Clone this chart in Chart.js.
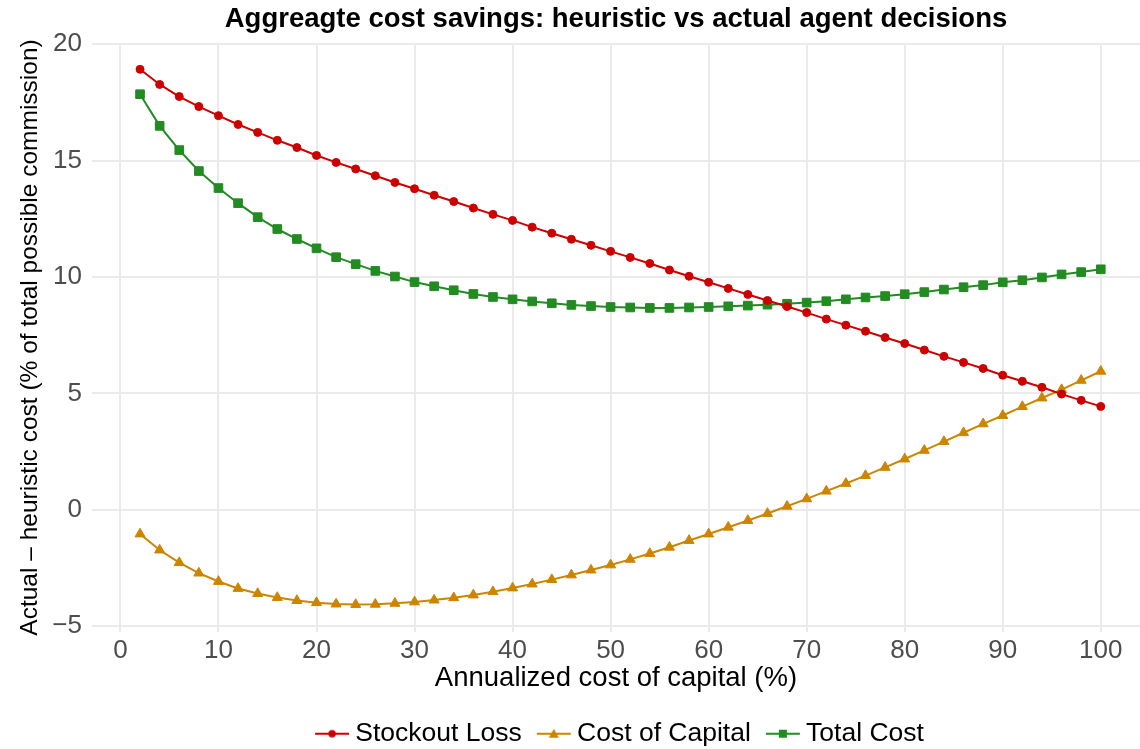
<!DOCTYPE html>
<html>
<head>
<meta charset="utf-8">
<script src="https://cdn.jsdelivr.net/npm/chart.js@4/dist/chart.umd.min.js"></script>
<style>
  html, body { margin: 0; padding: 0; background: #fff; overflow: hidden; }
</style>
</head>
<body>
<canvas id="chart" width="1140" height="749"></canvas>
<script>
const capitalCost = [2, 4, 6, 8, 10, 12, 14, 16, 18, 20, 22, 24, 26, 28, 30, 32, 34, 36, 38, 40,
  42, 44, 46, 48, 50, 52, 54, 56, 58, 60, 62, 64, 66, 68, 70, 72, 74, 76, 78, 80,
  82, 84, 86, 88, 90, 92, 94, 96, 98, 100];
const stockoutLoss = [18.92, 18.27, 17.75, 17.32, 16.93, 16.55, 16.21, 15.87, 15.56, 15.22,
  14.92, 14.64, 14.35, 14.06, 13.79, 13.51, 13.24, 12.96, 12.69, 12.43,
  12.14, 11.88, 11.62, 11.36, 11.10, 10.84, 10.58, 10.30, 10.03, 9.77,
  9.51, 9.25, 8.99, 8.73, 8.47, 8.19, 7.93, 7.67, 7.40, 7.14,
  6.86, 6.59, 6.33, 6.07, 5.78, 5.52, 5.26, 4.97, 4.70, 4.44];
const costOfCapital = [-1.04, -1.73, -2.27, -2.72, -3.08, -3.38, -3.60, -3.77, -3.90, -3.99,
  -4.05, -4.07, -4.06, -4.02, -3.96, -3.88, -3.78, -3.66, -3.52, -3.36,
  -3.19, -3.00, -2.80, -2.59, -2.37, -2.13, -1.88, -1.61, -1.32, -1.04,
  -0.75, -0.46, -0.16, 0.15, 0.47, 0.80, 1.13, 1.47, 1.82, 2.18,
  2.55, 2.93, 3.31, 3.69, 4.05, 4.43, 4.80, 5.16, 5.56, 5.95];
const totalCost = [17.85, 16.49, 15.45, 14.55, 13.82, 13.17, 12.57, 12.06, 11.63, 11.23,
  10.85, 10.55, 10.26, 10.02, 9.78, 9.60, 9.43, 9.27, 9.14, 9.04,
  8.95, 8.87, 8.80, 8.75, 8.71, 8.69, 8.67, 8.67, 8.69, 8.71,
  8.74, 8.77, 8.81, 8.85, 8.90, 8.96, 9.04, 9.12, 9.18, 9.26,
  9.35, 9.46, 9.56, 9.65, 9.77, 9.86, 9.98, 10.11, 10.21, 10.33];
const xTicks = [0, 10, 20, 30, 40, 50, 60, 70, 80, 90, 100];
const yTicks = [-5, 0, 5, 10, 15, 20];

const seriesNames = ['Stockout Loss', 'Cost of Capital', 'Total Cost'];
const seriesColors = ['#CD0000', '#CD8500', '#228B22'];
const seriesShapes = ['circle', 'triangle', 'rect'];
const shapeRadius = [4, 5.8, 6.1];

Chart.defaults.font.family = "'Liberation Sans', Arial, sans-serif";

// legend key: short line with the marker on it, drawn right-shifted
// so it sits close to the label text like in ggplot
function legendIcon(color, shape) {
  const c = document.createElement('canvas');
  c.width = 54;
  c.height = 14;
  const g = c.getContext('2d');
  g.strokeStyle = color;
  g.fillStyle = color;
  g.lineWidth = 2;
  g.beginPath();
  g.moveTo(17, 7);
  g.lineTo(51, 7);
  g.stroke();
  g.beginPath();
  if (shape === 'circle') {
    g.arc(34, 7, 3.8, 0, Math.PI * 2);
  } else if (shape === 'triangle') {
    g.moveTo(34, 2);
    g.lineTo(39, 11);
    g.lineTo(29, 11);
    g.closePath();
  } else {
    g.rect(30, 3, 8, 8);
  }
  g.fill();
  return c;
}

const icons = seriesColors.map((c, i) => legendIcon(c, seriesShapes[i]));

function makeSeries(values, i) {
  return {
    label: seriesNames[i],
    data: capitalCost.map((x, k) => ({ x: x, y: values[k] })),
    borderColor: seriesColors[i],
    backgroundColor: seriesColors[i],
    borderWidth: 2,
    pointStyle: seriesShapes[i],
    pointRadius: shapeRadius[i],
    pointBorderWidth: 1,
    tension: 0
  };
}

const tickFont = { size: 26, lineHeight: 1 };
const gridStyle = { color: '#EBEBEB', lineWidth: 2, drawTicks: false };

new Chart(document.getElementById('chart').getContext('2d'), {
  type: 'line',
  data: {
    datasets: [
      makeSeries(stockoutLoss, 0),
      makeSeries(costOfCapital, 1),
      makeSeries(totalCost, 2)
    ]
  },
  options: {
    responsive: false,
    animation: false,
    devicePixelRatio: 1,
    layout: { autoPadding: false, padding: { left: 4, right: 0, top: 0, bottom: -8 } },
    scales: {
      x: {
        type: 'linear',
        min: -2.9,
        max: 104,
        afterBuildTicks: s => { s.ticks = xTicks.map(v => ({ value: v })); },
        afterFit: s => { s.paddingLeft = 0; s.paddingRight = 0; },
        grid: gridStyle,
        border: { display: false },
        ticks: { color: '#4D4D4D', font: tickFont, padding: 6, maxRotation: 0, autoSkip: false },
        title: {
          display: true,
          text: 'Annualized cost of capital (%)',
          color: '#000',
          font: { size: 27.5, lineHeight: 1 },
          padding: { top: -5, bottom: 20 }
        }
      },
      y: {
        min: -5.25,
        max: 20.05,
        afterBuildTicks: s => { s.ticks = yTicks.map(v => ({ value: v })); },
        afterFit: s => { s.width = 88; },
        grid: gridStyle,
        border: { display: false },
        ticks: {
          color: '#4D4D4D',
          font: tickFont,
          padding: 10,
          callback: v => String(v).replace('-', '\u2212')
        },
        title: {
          display: true,
          text: 'Actual \u2013 heuristic cost (% of total possible commission)',
          color: '#000',
          font: { size: 24.5 },
          padding: { top: 12, bottom: 4 }
        }
      }
    },
    plugins: {
      title: {
        display: true,
        text: 'Aggreagte cost savings: heuristic vs actual agent decisions',
        color: '#000',
        font: { size: 27.5, weight: 'bold' },
        padding: { top: 3, bottom: 7 },
        fullSize: false
      },
      legend: {
        position: 'bottom',
        fullSize: false,
        labels: {
          usePointStyle: true,
          pointStyleWidth: 34,
          color: '#000',
          font: { size: 26.5 },
          padding: 8,
          generateLabels: chart => chart.data.datasets.map((ds, i) => ({
            text: ds.label,
            pointStyle: icons[i],
            fillStyle: ds.borderColor,
            strokeStyle: ds.borderColor,
            lineWidth: 0,
            hidden: false,
            datasetIndex: i
          }))
        }
      },
      tooltip: { enabled: false }
    }
  }
});
</script>
</body>
</html>
